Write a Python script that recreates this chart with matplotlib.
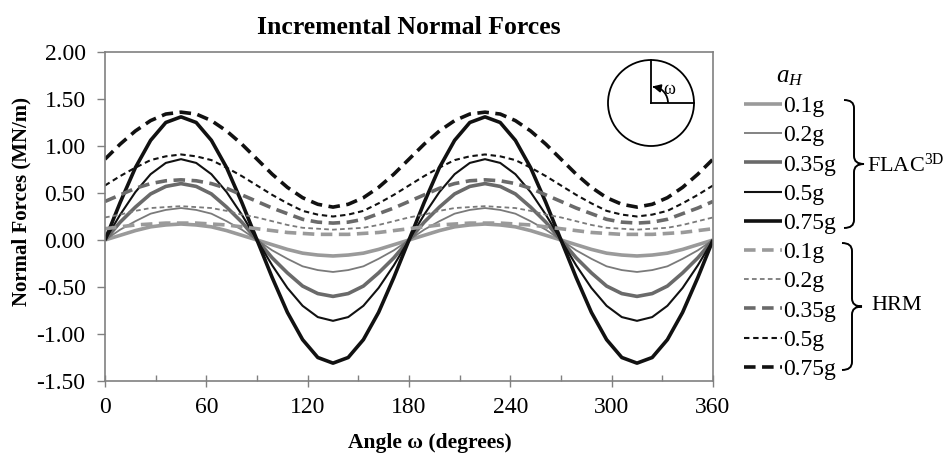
import numpy as np
import matplotlib
matplotlib.use("Agg")
import matplotlib.pyplot as plt
from matplotlib.path import Path
from matplotlib.patches import PathPatch, Circle, Arc
from matplotlib.transforms import Affine2D

plt.rcParams['font.family'] = ['Liberation Serif', 'DejaVu Serif']
plt.rcParams['mathtext.fontset'] = 'custom'
plt.rcParams['mathtext.it'] = 'Liberation Serif:italic'
plt.rcParams['mathtext.rm'] = 'Liberation Serif'
plt.rcParams['axes.unicode_minus'] = False

# --- data (angle in degrees, every 9 deg) ---
angle = np.arange(0, 361, 9)
levels = ['0.1g', '0.2g', '0.35g', '0.5g', '0.75g']

flac_01 = [0, .05, .10, .14, .16, .17, .16, .14, .10, .05, 0, -.05, -.10, -.14, -.16, -.17, -.16, -.14, -.10, -.05,
           0, .05, .10, .14, .16, .17, .16, .14, .10, .05, 0, -.05, -.10, -.14, -.16, -.17, -.16, -.14, -.10, -.05, 0]
flac_02 = [0, .11, .20, .28, .32, .34, .32, .28, .20, .11, 0, -.11, -.20, -.28, -.32, -.34, -.32, -.28, -.20, -.11,
           0, .11, .20, .28, .32, .34, .32, .28, .20, .11, 0, -.11, -.20, -.28, -.32, -.34, -.32, -.28, -.20, -.11, 0]
flac_035 = [0, .19, .35, .49, .57, .60, .57, .49, .35, .19, 0, -.19, -.35, -.49, -.57, -.60, -.57, -.49, -.35, -.19,
            0, .19, .35, .49, .57, .60, .57, .49, .35, .19, 0, -.19, -.35, -.49, -.57, -.60, -.57, -.49, -.35, -.19, 0]
flac_05 = [0, .27, .51, .70, .82, .86, .82, .70, .51, .27, 0, -.27, -.51, -.70, -.82, -.86, -.82, -.70, -.51, -.27,
           0, .27, .51, .70, .82, .86, .82, .70, .51, .27, 0, -.27, -.51, -.70, -.82, -.86, -.82, -.70, -.51, -.27, 0]
flac_075 = [0, .40, .77, 1.06, 1.25, 1.31, 1.25, 1.06, .77, .40, 0, -.40, -.77, -1.06, -1.25, -1.31, -1.25, -1.06, -.77, -.40,
            0, .40, .77, 1.06, 1.25, 1.31, 1.25, 1.06, .77, .40, 0, -.40, -.77, -1.06, -1.25, -1.31, -1.25, -1.06, -.77, -.40, 0]

hrm_01 = [.12, .14, .16, .17, .18, .18, .18, .17, .16, .14, .12, .10, .08, .07, .06, .06, .06, .07, .08, .10,
          .12, .14, .16, .17, .18, .18, .18, .17, .16, .14, .12, .10, .08, .07, .06, .06, .06, .07, .08, .10, .12]
hrm_02 = [.24, .27, .31, .34, .35, .36, .35, .34, .31, .27, .24, .20, .16, .13, .12, .11, .12, .13, .16, .20,
          .24, .27, .31, .34, .35, .36, .35, .34, .31, .27, .24, .20, .16, .13, .12, .11, .12, .13, .16, .20, .24]
hrm_035 = [.41, .48, .55, .60, .63, .64, .63, .60, .55, .48, .41, .34, .28, .22, .19, .18, .19, .22, .28, .34,
           .41, .48, .55, .60, .63, .64, .63, .60, .55, .48, .41, .34, .28, .22, .19, .18, .19, .22, .28, .34, .41]
hrm_05 = [.58, .68, .77, .85, .89, .91, .89, .85, .77, .68, .58, .48, .39, .31, .27, .25, .27, .31, .39, .48,
          .58, .68, .77, .85, .89, .91, .89, .85, .77, .68, .58, .48, .39, .31, .27, .25, .27, .31, .39, .48, .58]
hrm_075 = [.86, 1.02, 1.16, 1.27, 1.34, 1.36, 1.34, 1.27, 1.16, 1.02, .86, .70, .56, .45, .38, .35, .38, .45, .56, .70,
           .86, 1.02, 1.16, 1.27, 1.34, 1.36, 1.34, 1.27, 1.16, 1.02, .86, .70, .56, .45, .38, .35, .38, .45, .56, .70, .86]

flac = [flac_01, flac_02, flac_035, flac_05, flac_075]
hrm = [hrm_01, hrm_02, hrm_035, hrm_05, hrm_075]

# style per level: colour, linewidth
colors = ['#9a9a9a', '#7a7a7a', '#6a6a6a', '#111111', '#111111']
widths = [2.6, 1.3, 2.6, 1.5, 2.6]
hrm_dashes = [(3.2, 1.8), (2.6, 1.8), (3.2, 1.8), (2.6, 1.8), (3.2, 1.8)]

W, H = 949, 459
fig = plt.figure(figsize=(W / 100, H / 100), dpi=100)
ax = fig.add_axes([105 / W, 1 - 381 / H, (713 - 105) / W, (381 - 52) / H])

handles = []
for ys, c, lw in zip(flac, colors, widths):
    h, = ax.plot(angle, ys, color=c, lw=lw, solid_capstyle='butt', solid_joinstyle='round')
    handles.append(h)
for ys, c, lw, d in zip(hrm, colors, widths, hrm_dashes):
    h, = ax.plot(angle, ys, color=c, lw=lw, dashes=d, dash_capstyle='butt', dash_joinstyle='round')
    handles.append(h)

ax.set_xlim(0, 360)
ax.set_ylim(-1.5, 2.0)
ax.set_xticks(np.arange(0, 361, 60))
ax.set_xticks(np.arange(30, 360, 60), minor=True)
ax.set_yticks(np.arange(-1.5, 2.01, 0.5))
ax.set_yticklabels([f'{v:.2f}' for v in np.arange(-1.5, 2.01, 0.5)])
ax.tick_params(axis='x', which='major', direction='inout', length=9, width=1, color='#808080',
               labelsize=17, pad=7)
ax.tick_params(axis='x', which='minor', direction='in', length=4, width=1, color='#808080')
ax.tick_params(axis='y', which='major', direction='out', length=6, width=1, color='#808080',
               labelsize=17, pad=8)
for s in ax.spines.values():
    s.set_color('#808080')
    s.set_linewidth(1.2)

ax.set_title('Incremental Normal Forces', fontsize=18.5, fontweight='bold', pad=13)
ax.set_xlabel('Angle ω (degrees)', fontsize=15.5, fontweight='bold')
ax.xaxis.set_label_coords((430 - 105) / 608, (381 - 443) / 329)
ax.xaxis.label.set_va('center')
ax.set_ylabel('Normal Forces (MN/m)', fontsize=15, fontweight='bold')
ax.yaxis.set_label_coords((21 - 105) / 608, (381 - 202) / 329)
ax.yaxis.label.set_va('center')

# legend
leg = fig.legend(handles, levels + levels, loc='upper left', bbox_to_anchor=(735 / W, 1 - 56 / H),
                 frameon=False, fontsize=17, title='$a_H$', title_fontsize=18,
                 handlelength=1.6, handletextpad=0.05, labelspacing=0.325, borderaxespad=0)

# curly braces (figure pixel coordinates, y downwards)
pix = Affine2D().scale(1 / W, -1 / H).translate(0, 1) + fig.transFigure


def brace(x, top, bot, w, r=8):
    m = (top + bot) / 2
    xm = x + w / 2
    verts = [(x, top), (xm, top), (xm, top + r), (xm, m - r), (xm, m), (x + w, m),
             (xm, m), (xm, m + r), (xm, bot - r), (xm, bot), (x, bot)]
    codes = [Path.MOVETO, Path.CURVE3, Path.CURVE3, Path.LINETO, Path.CURVE3, Path.CURVE3,
             Path.CURVE3, Path.CURVE3, Path.LINETO, Path.CURVE3, Path.CURVE3]
    fig.add_artist(PathPatch(Path(verts, codes), fc='none', ec='black', lw=1.4, transform=pix))


brace(844, 100, 228, 20)
brace(842, 243, 370, 20)
fig.text(867 / W, 1 - 165 / H, 'FLAC$^{\\mathrm{3D}}$', fontsize=16, va='center', ha='left')
fig.text(871 / W, 1 - 306 / H, 'HRM', fontsize=16, va='center', ha='left')

# inset sketch of the angle definition
cx, cy, R = 651, 103, 43
ins = fig.add_axes([(cx - R - 3) / W, 1 - (cy + R + 3) / H, (2 * R + 6) / W, (2 * R + 6) / H])
ins.set_xlim(-R - 3, R + 3)
ins.set_ylim(-R - 3, R + 3)
ins.set_aspect('equal')
ins.axis('off')
ins.add_patch(Circle((0, 0), R, fc='white', ec='black', lw=1.3))
ins.plot([0, 0], [0, R], color='black', lw=1.3)
ins.plot([0, R], [0, 0], color='black', lw=1.3)
ins.add_patch(Arc((0, 0), 34, 34, theta1=0, theta2=75, color='black', lw=1.3))
ins.annotate('', xy=(1.5, 16.5), xytext=(6, 15.5),
             arrowprops=dict(arrowstyle='-|>', color='black', lw=1.2, mutation_scale=12))
ins.text(12, 13, 'ω', fontsize=13, ha='left', va='center')

fig.savefig('out.png', dpi=100)
